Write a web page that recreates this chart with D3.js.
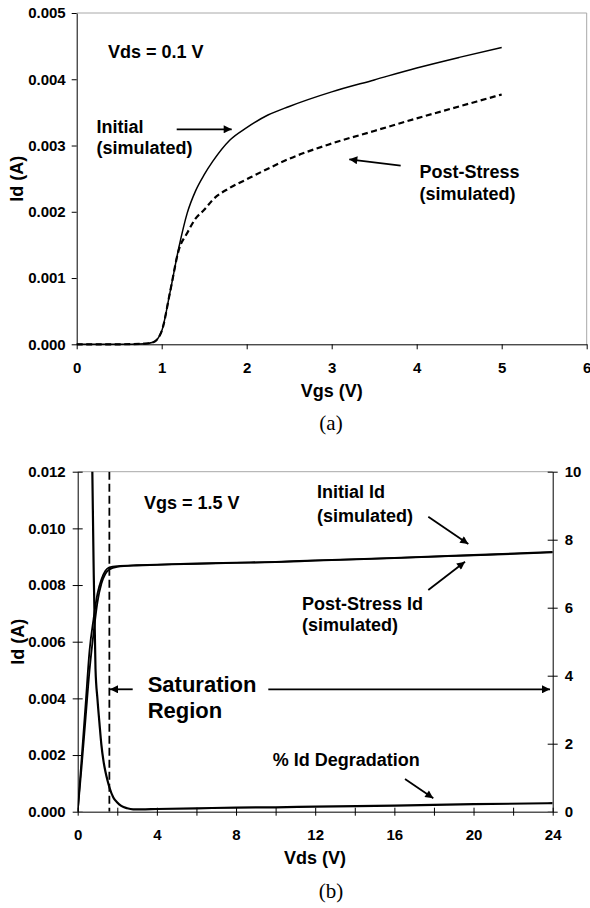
<!DOCTYPE html>
<html>
<head>
<meta charset="utf-8">
<script src="https://cdn.jsdelivr.net/npm/d3@7"></script>
<style>
  body { margin: 0; background: #fff; }
  text { font-family: "Liberation Sans", Arial, sans-serif; font-weight: bold; fill: #000; }
  .cap { font-family: "Liberation Serif", "Times New Roman", serif; font-weight: normal; }
</style>
</head>
<body>
<div id="chart"></div>
<script>
// ---- (a) Id vs Vgs, Vds = 0.1 V ----
const vgs = [0, 0.5, 0.8, 0.9, 1.0, 1.1, 1.2, 1.3, 1.4, 1.5, 1.6, 1.8, 2.0, 2.25, 2.5, 3.0, 3.5, 4.0, 4.5, 5.0];
const idInitialA = [0, 0, 0.00001, 0.00003, 0.0002, 0.0008, 0.00145, 0.00198, 0.00232, 0.00256, 0.00276, 0.00308, 0.00327, 0.00346, 0.00359, 0.00381, 0.00399, 0.00417, 0.00433, 0.00448];
const idPostA    = [0, 0, 0.00001, 0.00003, 0.0002, 0.0008, 0.00142, 0.00168, 0.00190, 0.00203, 0.00218, 0.00236, 0.00249, 0.00265, 0.00280, 0.00303, 0.00322, 0.00341, 0.00359, 0.00377];
const xTicksA = [0, 1, 2, 3, 4, 5, 6];
const yTicksA = [0, 0.001, 0.002, 0.003, 0.004, 0.005];

// ---- (b) Id vs Vds, Vgs = 1.5 V ----
const vds = [0, 0.2, 0.4, 0.6, 0.8, 1.0, 1.2, 1.4, 1.6, 2.0, 3, 4, 6, 8, 10, 12, 16, 20, 24];
const idInitialB = [0, 0.0019, 0.0038, 0.0057, 0.0068, 0.0077, 0.0082, 0.0085, 0.00862, 0.00867, 0.00870, 0.00872, 0.00876, 0.00879, 0.00882, 0.00887, 0.00896, 0.00906, 0.00917];
const idPostB    = [0, 0.0016, 0.0033, 0.0050, 0.0063, 0.0074, 0.00805, 0.0084, 0.00855, 0.00864, 0.00869, 0.00871, 0.00875, 0.00878, 0.00881, 0.00886, 0.00895, 0.00905, 0.00915];
const vdsDeg = [0.7, 0.8, 0.9, 1.0, 1.1, 1.2, 1.3, 1.4, 1.5, 1.6, 1.8, 2.0, 2.2, 2.5, 2.8, 3.2, 4, 6, 8, 10, 12, 16, 20, 24];
const pctDeg = [11.7, 7.4, 4.2, 3.3, 2.6, 1.95, 1.5, 1.18, 0.93, 0.72, 0.42, 0.27, 0.17, 0.10, 0.07, 0.07, 0.08, 0.10, 0.12, 0.13, 0.15, 0.18, 0.22, 0.25];
const satVds = 1.6;
const xTicksB = [0, 4, 8, 12, 16, 20, 24];
const xMinorB = d3.range(0, 25, 2);
const yTicksB = [0, 0.002, 0.004, 0.006, 0.008, 0.010, 0.012];
const y2TicksB = [0, 2, 4, 6, 8, 10];

const svg = d3.select("#chart").append("svg")
    .attr("width", 590)
    .attr("height", 908);

const defs = svg.append("defs");
defs.append("marker")
    .attr("id", "arrow")
    .attr("viewBox", "0 0 10 10")
    .attr("refX", 10).attr("refY", 5)
    .attr("markerWidth", 10).attr("markerHeight", 8)
    .attr("markerUnits", "userSpaceOnUse")
    .attr("orient", "auto")
    .append("path")
    .attr("d", "M0,0 L10,5 L0,10 Z")
    .attr("fill", "#000");

function arrow(x1, y1, x2, y2) {
    svg.append("line")
        .attr("x1", x1).attr("y1", y1).attr("x2", x2).attr("y2", y2)
        .attr("stroke", "#000").attr("stroke-width", 1.8)
        .attr("marker-end", "url(#arrow)");
}

function label(x, y, lines, size, lh) {
    const t = svg.append("text").attr("x", x).attr("y", y).style("font-size", size + "px");
    lines.forEach((s, i) => t.append("tspan").attr("x", x).attr("dy", i ? lh : 0).text(s));
}

function styleAxis(g) {
    g.selectAll("text").style("font-size", "15px").style("font-family", "'Liberation Sans', Arial, sans-serif").style("font-weight", "bold");
}

// ================= chart (a) =================
const xA = d3.scaleLinear().domain([0, 6]).range([76.7, 586.7]);
const yA = d3.scaleLinear().domain([0, 0.005]).range([344.3, 13]);

// plot border (Excel style: grey top/right)
svg.append("path")
    .attr("d", `M${xA(0)},${yA(0.005)} H${xA(6)} V${yA(0)}`)
    .attr("fill", "none").attr("stroke", "#a8a8a8").attr("stroke-width", 1);

const axA_y = svg.append("g")
    .attr("transform", `translate(${xA(0)},0)`)
    .call(d3.axisLeft(yA).tickValues(yTicksA).tickFormat(d3.format(".3f")).tickSize(5).tickSizeOuter(0).tickPadding(6));
styleAxis(axA_y);

const axA_x = svg.append("g")
    .attr("transform", `translate(0,${yA(0)})`)
    .call(d3.axisBottom(xA).tickValues(xTicksA).tickFormat(d3.format("d")).tickSize(5).tickSizeOuter(0).tickPadding(13));
styleAxis(axA_x);

const lineA = d3.line().x(d => xA(d[0])).y(d => yA(d[1])).curve(d3.curveMonotoneX);

svg.append("path")
    .datum(vgs.map((v, i) => [v, idPostA[i]]))
    .attr("d", lineA)
    .attr("fill", "none").attr("stroke", "#000").attr("stroke-width", 2.2)
    .attr("stroke-dasharray", "6,3.5");

svg.append("path")
    .datum(vgs.map((v, i) => [v, idInitialA[i]]))
    .attr("d", lineA)
    .attr("fill", "none").attr("stroke", "#000").attr("stroke-width", 1.5);

label(108, 57.5, ["Vds = 0.1 V"], 18, 0);
label(96.5, 133.3, ["Initial", "(simulated)"], 18, 21);
label(419.5, 178.3, ["Post-Stress", "(simulated)"], 18, 22);
arrow(176.7, 129.3, 231.7, 129.3);
arrow(400.7, 165.7, 349.3, 159.3);

svg.append("text")
    .attr("x", 331.7).attr("y", 397)
    .attr("text-anchor", "middle").style("font-size", "18px")
    .text("Vgs (V)");
svg.append("text")
    .attr("transform", `translate(23,${(yA(0) + yA(0.005)) / 2}) rotate(-90)`)
    .attr("text-anchor", "middle").style("font-size", "18px")
    .text("Id (A)");
svg.append("text").attr("class", "cap")
    .attr("x", 331).attr("y", 430)
    .attr("text-anchor", "middle").style("font-size", "21px")
    .text("(a)");

// ================= chart (b) =================
const xB = d3.scaleLinear().domain([0, 24]).range([77.7, 552.7]);
const yB = d3.scaleLinear().domain([0, 0.012]).range([811.7, 471.7]);
const y2B = d3.scaleLinear().domain([0, 10]).range([811.7, 471.7]);

svg.append("line")
    .attr("x1", xB(0)).attr("x2", xB(24)).attr("y1", yB(0.012)).attr("y2", yB(0.012))
    .attr("stroke", "#a8a8a8").attr("stroke-width", 1);

svg.append("clipPath").attr("id", "clipB")
    .append("rect")
    .attr("x", xB(0)).attr("y", yB(0.012))
    .attr("width", xB(24) - xB(0)).attr("height", yB(0) - yB(0.012));

const axB_y = svg.append("g")
    .attr("transform", `translate(${xB(0)},0)`)
    .call(d3.axisLeft(yB).tickValues(yTicksB).tickFormat(d3.format(".3f")).tickSize(5).tickSizeOuter(0).tickPadding(7));
axB_y.selectAll(".tick line").attr("x1", 5);
styleAxis(axB_y);

const axB_y2 = svg.append("g")
    .attr("transform", `translate(${xB(24)},0)`)
    .call(d3.axisRight(y2B).tickValues(y2TicksB).tickFormat(d3.format("d")).tickSize(5).tickSizeOuter(0).tickPadding(7));
axB_y2.selectAll(".tick line").attr("x1", -5);
styleAxis(axB_y2);

const axB_x = svg.append("g")
    .attr("transform", `translate(0,${yB(0)})`)
    .call(d3.axisBottom(xB).tickValues(xMinorB).tickFormat(d => xTicksB.includes(d) ? d : "").tickSize(4).tickSizeOuter(0).tickPadding(14));
axB_x.selectAll(".tick line").attr("y1", -4);
axB_x.select(".domain").attr("stroke", "#555").attr("stroke-width", 1.5);
styleAxis(axB_x);

const lineB = d3.line().x(d => xB(d[0])).y(d => yB(d[1])).curve(d3.curveMonotoneX);
const lineDeg = d3.line().x(d => xB(d[0])).y(d => y2B(d[1])).curve(d3.curveMonotoneX);

const plotB = svg.append("g").attr("clip-path", "url(#clipB)");

plotB.append("line")
    .attr("x1", xB(satVds)).attr("x2", xB(satVds))
    .attr("y1", yB(0.012)).attr("y2", yB(0))
    .attr("stroke", "#000").attr("stroke-width", 1.8)
    .attr("stroke-dasharray", "8,4");

plotB.append("path")
    .datum(vds.map((v, i) => [v, idPostB[i]]))
    .attr("d", lineB)
    .attr("fill", "none").attr("stroke", "#000").attr("stroke-width", 1.8);

plotB.append("path")
    .datum(vds.map((v, i) => [v, idInitialB[i]]))
    .attr("d", lineB)
    .attr("fill", "none").attr("stroke", "#000").attr("stroke-width", 1.8);

plotB.append("path")
    .datum(vdsDeg.map((v, i) => [v, pctDeg[i]]))
    .attr("d", lineDeg)
    .attr("fill", "none").attr("stroke", "#000").attr("stroke-width", 2.2);

label(144, 509, ["Vgs = 1.5 V"], 18, 0);
label(317, 498, ["Initial Id", "(simulated)"], 18, 24);
label(302, 610, ["Post-Stress Id", "(simulated)"], 18, 21);
label(147.7, 691.7, ["Saturation", "Region"], 22, 26.6);
label(272.7, 765.7, ["% Id Degradation"], 18, 0);
arrow(428.3, 516.7, 468.3, 544);
arrow(428.3, 590, 465, 561.7);
arrow(132.7, 689.3, 110, 689.3);
arrow(268.3, 689.3, 550, 689.3);
arrow(405, 779, 433.3, 798.3);

svg.append("text")
    .attr("x", 315).attr("y", 863.5)
    .attr("text-anchor", "middle").style("font-size", "18px")
    .text("Vds (V)");
svg.append("text")
    .attr("transform", `translate(24,${(yB(0) + yB(0.012)) / 2}) rotate(-90)`)
    .attr("text-anchor", "middle").style("font-size", "18px")
    .text("Id (A)");
svg.append("text").attr("class", "cap")
    .attr("x", 331).attr("y", 898)
    .attr("text-anchor", "middle").style("font-size", "21px")
    .text("(b)");
</script>
</body>
</html>
